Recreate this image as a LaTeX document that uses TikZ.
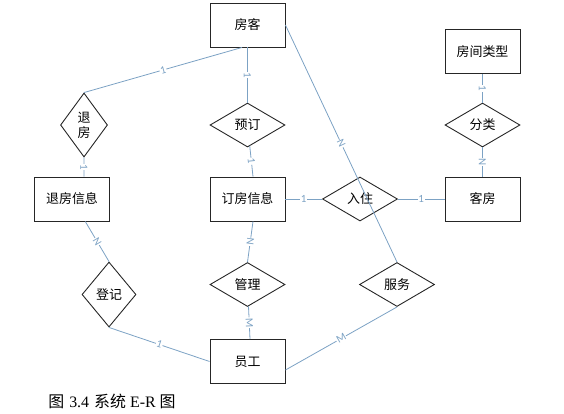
\documentclass[tikz,border=0pt]{standalone}
\usepackage{fontspec}
\setmainfont{Liberation Serif}
\newfontfamily\cjk{Noto Sans CJK SC}
\newfontfamily\cardfont{Carlito}
\usetikzlibrary{shapes.geometric}
\definecolor{linkblue}{RGB}{124,162,196}
\tikzset{%
  entity/.style={rectangle,draw=black!85,line width=0.9bp,minimum width=75bp,minimum height=44bp,inner sep=0pt,font=\cjk\fontsize{13}{15}\selectfont},
  rel/.style={diamond,draw=black!85,line width=0.9bp,minimum width=75bp,minimum height=44bp,inner sep=0pt,align=center,font=\cjk\fontsize{13}{15}\selectfont},
  link/.style={draw=linkblue,line width=0.8bp},
  card/.style={sloped,fill=white,inner sep=0.6bp,text=linkblue,font=\cardfont\fontsize{11}{11}\selectfont}%
}

\begin{document}
\begin{tikzpicture}[x=1bp,y=-1bp]
      \useasboundingbox (0,0) rectangle (564,413);
      \node (guest) [entity] at (247.5,25) {房客};
      \node (roomtype) [entity] at (482.5,51.5) {房间类型};
      \node (checkout) [rel,minimum width=47bp,minimum height=64bp] at (84,125) {退\\房};
      \node (book) [rel] at (247.5,125) {预订};
      \node (classify) [rel] at (482.5,125) {分类};
      \node (checkoutinfo) [entity] at (72,199) {退房信息};
      \node (bookinfo) [entity] at (247.5,199) {订房信息};
      \node (checkin) [rel] at (360,199) {入住};
      \node (room) [entity] at (482.5,199) {客房};
      \node (register) [rel,minimum width=54bp,minimum height=65bp] at (109,294.5) {登记};
      \node (manage) [rel] at (247.5,284.5) {管理};
      \node (serve) [rel] at (397,284.5) {服务};
      \node (staff) [entity] at (247.5,361.5) {员工};
      \node (caption) at (112,401) {\fontsize{16}{18}\selectfont{\cjk 图}\hspace{5bp}3.4\hspace{5bp}{\cjk 系统}\hspace{4bp}E-R\hspace{4bp}{\cjk 图}};

      \path ([xshift=-5.5bp]guest.south) edge[link] node[card]{1} (checkout.north)
            (guest) edge[link] node[card]{1} (book)
            (guest.east) edge[link] node[card]{N} (serve.north);
      \path (book) edge[link] node[card]{1} ([xshift=5.5bp]bookinfo.north)
            (checkout) edge[link] node[card]{1} ([xshift=12bp]checkoutinfo.north);
      \path (roomtype) edge[link] node[card]{1} (classify)
            (classify) edge[link] node[card]{N} (room);
      \path (bookinfo) edge[link] node[card]{1} (checkin)
            (checkin) edge[link] node[card]{1} (room);
      \path (checkoutinfo) edge[link] node[card]{N} (register.north)
            ([xshift=5.5bp]bookinfo.south) edge[link] node[card]{N} (manage.north)
            (manage) edge[link] node[card]{M} ([xshift=2.5bp]staff.north);
      \path (register.south) edge[link] node[card]{1} (staff.west)
            (serve.south) edge[link] node[card]{M} ([yshift=-8.5bp]staff.east);

    \end{tikzpicture}
\end{document}
